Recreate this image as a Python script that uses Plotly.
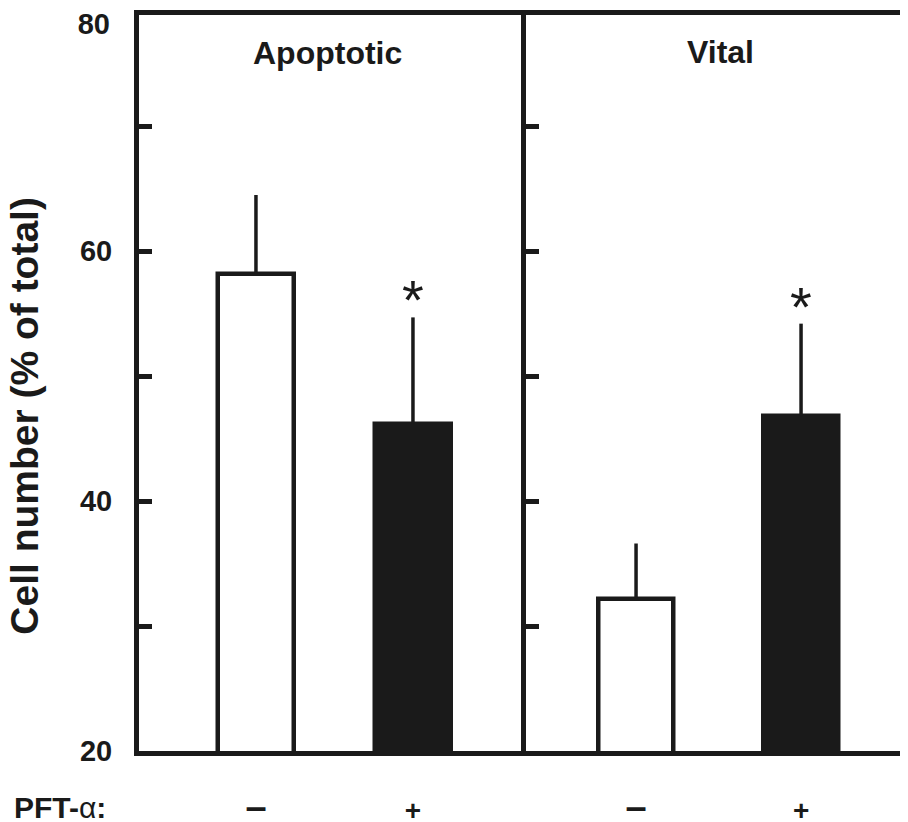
import plotly.graph_objects as go

# ---- data ----
panels = ["Apoptotic", "Vital"]
pft_labels = ["<span style='font-size:38px'>–</span>", "+"]
positions = [1, 2]
apoptotic_mean = [58.2, 46.2]
apoptotic_err = [6.3, 8.5]
vital_mean = [32.2, 46.8]
vital_err = [4.4, 7.4]
significant = [False, True]
y_ticks = [20, 30, 40, 50, 60, 70]
y_ticktext = ["20", "", "40", "", "60", ""]
y_range = [20, 78.9]          # frame top sits just below 80 in the original
y_top_tick = [80]
y_top_text = ["80"]
y_top_range = [20, 80]

INK = "#1a1a1a"
FONT = "Liberation Sans, Arial, sans-serif"
bar_colors = ["white", INK]

# the page body adds an 8px offset; figure coordinates = page coordinates - 8
OFF = 8
W, H = 908 - OFF, 822 - OFF
ml, mr, mt, mb = 139 - OFF, 0, 15 - OFF, H - (751.5 - OFF)
pw = W - ml - mr
ph = H - mt - mb
div_x = 525.5 - OFF
split = (div_x - ml) / pw

fig = go.Figure()

series = [(apoptotic_mean, apoptotic_err, "x", "y", 0.487),
          (vital_mean, vital_err, "x2", "y2", 0.455)]
for mean, err, xa, ya, w in series:
    fig.add_trace(go.Bar(
        x=positions, y=mean, xaxis=xa, yaxis=ya, width=w,
        marker=dict(color=bar_colors, line=dict(color=INK, width=4.5)),
        error_y=dict(type="data", symmetric=False, array=err,
                     arrayminus=[0, 0], width=0, thickness=3.5, color=INK),
        showlegend=False, hoverinfo="skip",
    ))
    for p, m, e, s in zip(positions, mean, err, significant):
        if s:
            fig.add_annotation(x=p, y=m + e, xref=xa, yref=ya, text="*",
                               showarrow=False, yanchor="bottom", yshift=-16,
                               font=dict(family=FONT, size=56, color=INK))

# invisible helper trace so the overlay axis carrying the top label is drawn
fig.add_trace(go.Scatter(x=[None], y=[None], xaxis="x", yaxis="y3",
                         showlegend=False, hoverinfo="skip"))

title_pos = [(0.487, 53), (0.509, 52)]
for i, name in enumerate(panels):
    xr = "x domain" if i == 0 else "x2 domain"
    yr = "y domain" if i == 0 else "y2 domain"
    fx, py = title_pos[i]
    fig.add_annotation(x=fx, y=1 - (py - OFF - mt) / ph,
                       xref=xr, yref=yr, text=name, showarrow=False,
                       yanchor="middle",
                       font=dict(family=FONT, size=32, color=INK, weight="bold"))

fig.add_annotation(x=(12 - OFF - ml) / pw, y=-(808 - OFF - (H - mb)) / ph,
                   xref="paper", yref="paper", xanchor="left", yanchor="middle",
                   text="PFT-<span style='font-weight:normal'>α</span>:",
                   showarrow=False,
                   font=dict(family=FONT, size=30, color=INK, weight="bold"))

fig.add_annotation(x=(25 - OFF - ml) / pw, y=(H - mb - (416 - OFF)) / ph,
                   xref="paper", yref="paper", xanchor="center", yanchor="middle",
                   text="Cell number (% of total)", textangle=-90,
                   showarrow=False,
                   font=dict(family=FONT, size=39, color=INK, weight="bold"))

xcommon = dict(showline=True, linewidth=5, linecolor=INK, mirror=True,
               ticks="", tickvals=positions, ticktext=pft_labels,
               ticklabelstandoff=30, showgrid=False, zeroline=False,
               automargin=False,
               tickfont=dict(family=FONT, size=28, color=INK, weight="bold"))
ycommon = dict(range=y_range, showline=True, linewidth=5, linecolor=INK,
               ticks="inside", ticklen=13, tickwidth=4.5, tickcolor=INK,
               tickvals=y_ticks, showgrid=False, zeroline=False,
               automargin=False)
yfont = dict(family=FONT, size=29, color=INK, weight="bold")

fig.update_layout(
    width=W, height=H,
    margin=dict(l=ml, r=mr, t=mt, b=mb, pad=0, autoexpand=False),
    paper_bgcolor="white", plot_bgcolor="white",
    bargap=0,
    xaxis=dict(domain=[0, split], range=[0.255, 0.255 + (div_x - ml) / 157], **xcommon),
    xaxis2=dict(domain=[split, 1], range=[0.330, 0.330 + (W - div_x) / 165],
                anchor="y2", **xcommon),
    yaxis=dict(anchor="x", ticktext=y_ticktext, ticklabelstandoff=16,
               tickfont=yfont, **ycommon),
    yaxis2=dict(anchor="x2", showticklabels=False, **ycommon),
    yaxis3=dict(anchor="x", overlaying="y", side="left", range=y_top_range,
                tickvals=y_top_tick, ticktext=y_top_text, ticks="",
                showline=False, showgrid=False, zeroline=False,
                ticklabelposition="outside", ticklabelshift=9,
                ticklabeloverflow="allow",
                ticklabelstandoff=28, automargin=False, tickfont=yfont),
)

fig.write_html("out.html")
